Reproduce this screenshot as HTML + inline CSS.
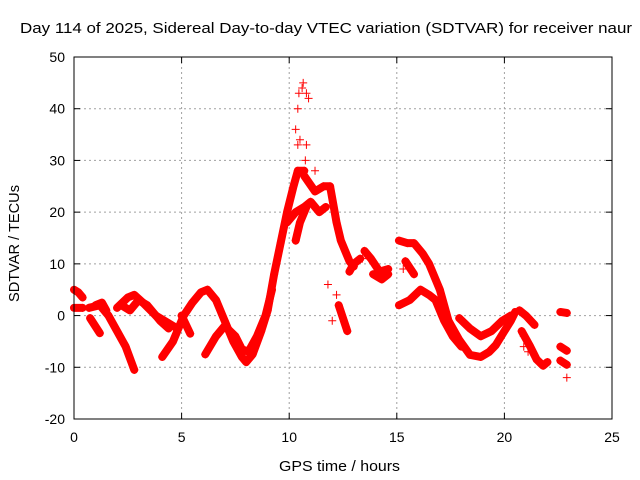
<!DOCTYPE html>
<html><head><meta charset="utf-8"><style>
body{margin:0;background:#fff}
svg{display:block;font-family:"Liberation Sans",sans-serif}
</style></head><body>
<svg id="c" width="640" height="480">
<rect x="0" y="0" width="640" height="480" fill="#fff"/>
<text x="20" y="33" font-size="15" textLength="612" lengthAdjust="spacingAndGlyphs">Day 114 of 2025, Sidereal Day-to-day VTEC variation (SDTVAR) for receiver naur</text>
<text x="279" y="471" font-size="15" textLength="121" lengthAdjust="spacingAndGlyphs">GPS time / hours</text>
<text transform="translate(19,302) rotate(-90)" font-size="15" textLength="117" lengthAdjust="spacingAndGlyphs">SDTVAR / TECUs</text>
<g id="grid"></g>
<g id="marks"></g>
<rect x="74" y="57" width="538" height="362" fill="none" stroke="#000"/>
<g id="ticks"></g>
</svg>
<script>
const xTicks=[0,5,10,15,20,25];
const yTicks=[-20,-10,0,10,20,30,40,50];
const track1=[[0,5],[0.2,4.5],[0.4,3.5]];
const track2=[[0,1.5],[0.4,1.5]];
const track3=[[0.7,1.5],[1.2,2],[1.6,0],[2.0,-3],[2.4,-6],[2.8,-10.5]];
const track4=[[0.75,-0.5],[1.2,-3.4]];
const track5=[[1.0,2],[1.3,2.5],[1.5,1]];
const track6=[[2.0,1.5],[2.5,3.5],[2.8,4],[3.2,2.5],[3.8,0],[4.4,-1.5],[4.8,-2.5]];
const track7=[[2.2,2],[2.6,1],[3.0,3],[3.4,2],[4.0,-1],[4.4,-2.5]];
const track8=[[4.1,-8],[4.6,-5],[5.1,0],[5.5,2.5],[5.9,4.5],[6.2,5],[6.6,3],[7.0,-1],[7.4,-5],[7.8,-8],[8.0,-9],[8.3,-7.5],[8.7,-3],[9.0,1],[9.3,8],[9.6,14],[9.9,20],[10.2,25],[10.4,28],[10.7,28]];
const track9=[[5.0,0],[5.4,-3.5]];
const track10=[[6.1,-7.5],[6.6,-4],[7.0,-2],[7.5,-4],[7.8,-6.5],[8.1,-7],[8.5,-4],[8.9,0],[9.2,5]];
const track11=[[9.9,18],[10.3,20],[10.7,21],[11.0,22],[11.4,20],[11.7,21]];
const track12=[[10.7,27],[11.2,24],[11.6,25],[11.9,25],[12.2,18],[12.4,14.5],[12.8,10.5],[13.0,9.5]];
const track13=[[10.3,14.5],[10.5,18],[10.8,21]];
const track14=[[12.3,2],[12.7,-3]];
const track15=[[12.8,8.5],[13.0,10],[13.3,11]];
const track16=[[13.5,12.5],[13.8,11],[14.2,8.5],[14.6,9]];
const track17=[[13.9,8],[14.3,7],[14.6,8]];
const track18=[[15.1,14.5],[15.5,14],[15.8,14],[16.2,12],[16.5,10],[17.0,5],[17.4,-1],[17.9,-4.7],[18.4,-7.6],[18.9,-8],[19.3,-7],[19.6,-5.7],[20.0,-3],[20.3,-1],[20.5,0.7]];
const track19=[[15.1,2],[15.6,3],[16.1,5],[16.5,4],[16.8,3],[17.2,-1],[17.6,-4],[18.0,-6]];
const track20=[[15.4,10.5],[15.8,8]];
const track21=[[17.9,-0.5],[18.4,-2.5],[18.9,-4],[19.4,-3],[19.9,-1],[20.3,0]];
const track22=[[20.7,1],[21.0,0],[21.4,-1.8]];
const track23=[[20.8,-3],[21.2,-6],[21.5,-8.5],[21.8,-9.7],[22.0,-9]];
const track24=[[22.6,0.7],[22.9,0.5]];
const track25=[[22.6,-6],[22.9,-6.8]];
const track26=[[22.6,-8.7],[22.9,-9.5]];
const sparse=[[10.3,36],[10.4,40],[10.45,43],[10.6,44],[10.65,45],[10.8,43],[10.9,42],[10.75,30],[10.8,33],[10.5,34],[10.4,33],[11.2,28],[13.4,11],[15.3,9],[20.9,-4],[21.1,-7],[20.9,-6],[22.9,-12],[12.0,-1],[12.2,4],[11.8,6]];
const tracks=[track1,track2,track3,track4,track5,track6,track7,track8,track9,track10,track11,track12,track13,track14,track15,track16,track17,track18,track19,track20,track21,track22,track23,track24,track25,track26];

const X0=74,X1=612,Y0=419,Y1=57;
const sx=h=>X0+(h-0)/(25-0)*(X1-X0);
const sy=v=>Y0-(v+20)/(70)*(Y0-Y1);
const NS='http://www.w3.org/2000/svg';
const grid=document.getElementById('grid'),ticks=document.getElementById('ticks'),marks=document.getElementById('marks');
function mk(tag,attrs,parent){const e=document.createElementNS(NS,tag);for(const k in attrs)e.setAttribute(k,attrs[k]);parent.appendChild(e);return e;}
xTicks.forEach(t=>{const x=sx(t);
 if(t>0&&t<25){const g=mk('line',{x1:x,x2:x,y1:Y0,y2:Y1,stroke:'#a0a0a0','stroke-dasharray':'2,3'},grid);}
 const l=mk('text',{x:x,y:Y0+23,'font-size':14,'text-anchor':'middle'},ticks);l.textContent=t;
 
 
 mk('line',{x1:x,x2:x,y1:Y0,y2:Y0-6,stroke:'#000'},ticks);mk('line',{x1:x,x2:x,y1:Y1,y2:Y1+6,stroke:'#000'},ticks);});
yTicks.forEach(t=>{const y=sy(t);
 if(t>-20&&t<50){const g=mk('line',{x1:X0,x2:X1,y1:y,y2:y,stroke:'#a0a0a0','stroke-dasharray':'2,3'},grid);}
 const l=mk('text',{x:X0-9,y:y+5,'font-size':14,'text-anchor':'end'},ticks);l.textContent=t;
 
 
 mk('line',{x1:X0,x2:X0+6,y1:y,y2:y,stroke:'#000'},ticks);mk('line',{x1:X1,x2:X1-6,y1:y,y2:y,stroke:'#000'},ticks);});
function plus(h,v){const x=sx(h),y=sy(v);
 const p=mk('path',{d:`M${x-4} ${y}H${x+4}M${x} ${y-4}V${y+4}`,stroke:'#f00','stroke-width':1},marks);
 
 }
tracks.forEach(tr=>{
 const pl=mk('polyline',{points:tr.map(p=>sx(p[0])+','+sy(p[1])).join(' '),fill:'none',stroke:'#f00','stroke-width':8,'stroke-linejoin':'round','stroke-linecap':'round'},marks);
 
 
 tr.forEach(p=>plus(p[0],p[1]));});
sparse.forEach(p=>plus(p[0],p[1]));
</script>
</body></html>
